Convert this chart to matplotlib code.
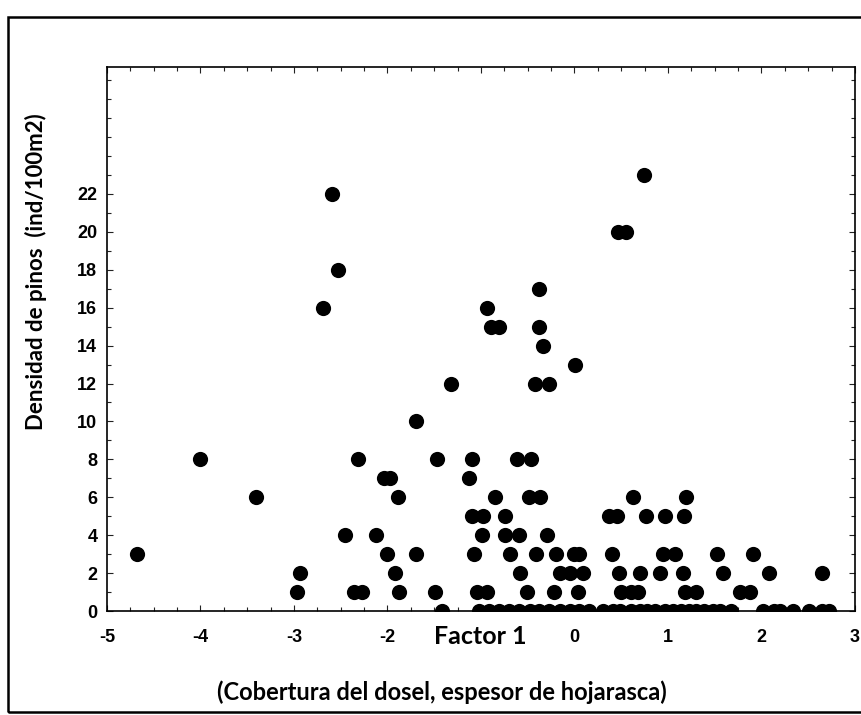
import matplotlib
matplotlib.use("Agg")
from matplotlib import pyplot as plt
from matplotlib.ticker import MultipleLocator
from matplotlib.patches import Rectangle

# factor 1 score vs pine density (ind/100m2)
x_pts = [-4.68, -4.00, -3.41, -2.97, -2.94, -2.69, -2.59, -2.53, -2.45, -2.36,
         -2.27, -2.32, -2.12, -2.04, -1.97, -2.01, -1.92, -1.89, -1.88, -1.70,
         -1.70, -1.49, -1.47, -1.32, -1.13, -1.10, -1.10, -0.98, -1.08, -1.04,
         -0.94, -0.99, -0.94, -0.89, -0.81, -0.85, -0.74, -0.74, -0.59, -0.69,
         -0.61, -0.47, -0.58, -0.49, -0.37, -0.51, -0.42, -0.27, -0.41, -0.38,
         -0.38, -0.34, -0.29, -0.22, -0.20, -0.16, -0.05, 0.01, 0.00, 0.05,
         0.04, 0.09, 0.37, 0.45, 0.40, 0.48, 0.46, 0.55, 0.50, 0.60,
         0.68, 0.63, 0.70, 0.74, 0.76, 0.95, 0.97, 0.91, 1.07, 1.17,
         1.19, 1.16, 1.18, 1.30, 1.52, 1.59, 1.77, 1.88, 1.91, 2.08,
         2.65]
y_pts = [3, 8, 6, 1, 2, 16, 22, 18, 4, 1,
         1, 8, 4, 7, 7, 3, 2, 6, 1, 10,
         3, 1, 8, 12, 7, 8, 5, 5, 3, 1,
         1, 4, 16, 15, 15, 6, 5, 4, 4, 3,
         8, 8, 2, 6, 6, 1, 12, 12, 3, 17,
         15, 14, 4, 1, 3, 2, 2, 13, 3, 3,
         1, 2, 5, 5, 3, 2, 20, 20, 1, 1,
         1, 6, 2, 23, 5, 3, 5, 2, 3, 5,
         6, 2, 1, 1, 3, 2, 1, 1, 3, 2,
         2]

# plots with zero density, sitting on the x axis
x_zero = [-1.42, -1.02, -0.91, -0.81, -0.70, -0.59, -0.48, -0.38, -0.27, -0.16,
          -0.05, 0.05, 0.16, 0.30, 0.41, 0.49, 0.60, 0.70, 0.78, 0.86,
          0.97, 1.05, 1.14, 1.22, 1.30, 1.38, 1.48, 1.56, 1.67, 2.02,
          2.13, 2.20, 2.34, 2.51, 2.65, 2.72]

x_ticks = [-5, -4, -3, -2, -1, 0, 1, 2, 3]
x_labels = ["-5", "-4", "-3", "-2", "", "0", "1", "2", "3"]
y_ticks = list(range(0, 23, 2))

W, H = 862, 715
fig = plt.figure(figsize=(W / 100, H / 100), dpi=100)
ax = fig.add_axes([107 / W, 1 - 611 / H, (855 - 107) / W, (611 - 67) / H])

ax.scatter(x_pts, y_pts, s=120, color="black", linewidths=0, zorder=3)
ax.scatter(x_zero, [0] * len(x_zero), s=120, color="black", linewidths=0, zorder=3)

ax.set_xlim(-5, 3)
ax.set_ylim(0, 28.7)
ax.set_xticks(x_ticks)
ax.set_xticklabels(x_labels)
ax.set_yticks(y_ticks)
ax.xaxis.set_minor_locator(MultipleLocator(0.25))
ax.yaxis.set_minor_locator(MultipleLocator(1))
ax.tick_params(which="both", direction="in", top=True, right=True,
               length=3, width=0.8, color="#222222")
ax.tick_params(which="major", length=4)
ax.tick_params(axis="x", pad=13)
ax.tick_params(axis="y", pad=7)
for lab in ax.get_xticklabels() + ax.get_yticklabels():
    lab.set_fontfamily(["Liberation Sans Narrow", "Liberation Sans"])
    lab.set_fontweight("bold")
    lab.set_fontsize(13)
for sp in ax.spines.values():
    sp.set_linewidth(1.2)

fig.text(480 / W, 1 - 636 / H, "Factor 1", ha="center", va="center",
         fontsize=18, fontweight="bold", family="Lato")
fig.text(442 / W, 1 - 692 / H, "(Cobertura del dosel, espesor de hojarasca)",
         ha="center", va="center", fontsize=17, fontweight="bold", family="Lato")
fig.text(36 / W, 1 - 272 / H, "Densidad de pinos  (ind/100m2)", rotation=90,
         ha="center", va="center", fontsize=16, fontweight="bold", family="Lato")

# outer frame of the scanned figure
fig.patches.append(Rectangle((8 / W, 1 - 712 / H), 1.1, (712 - 17) / H,
                             transform=fig.transFigure, fill=False,
                             edgecolor="black", linewidth=1.8))

fig.savefig("out.png", dpi=100)
